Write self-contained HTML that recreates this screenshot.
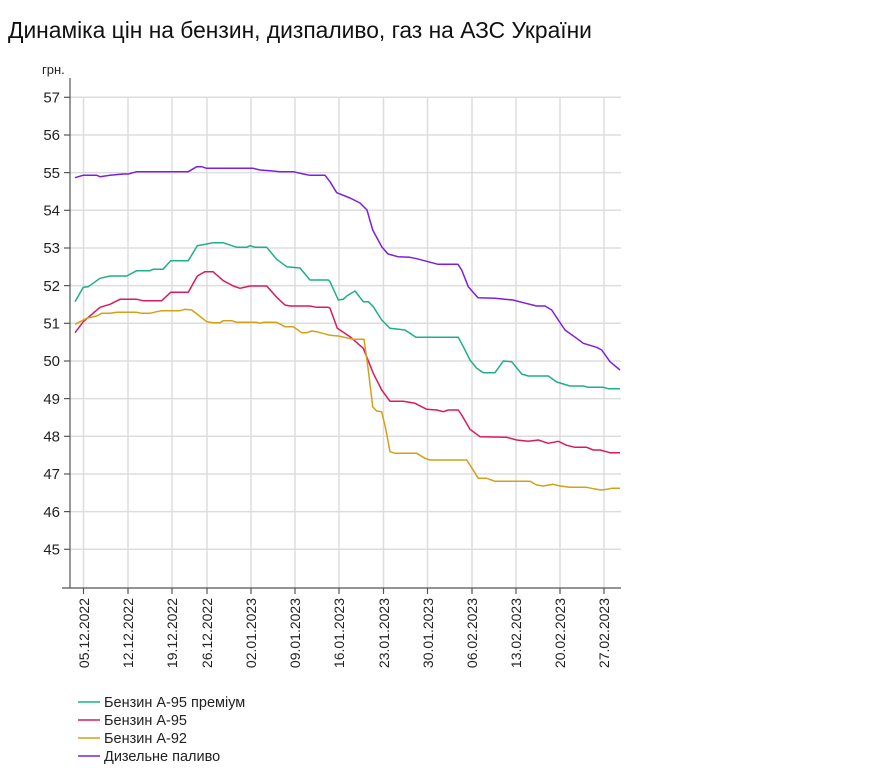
<!DOCTYPE html>
<html><head><meta charset="utf-8"><style>
body{margin:0;background:#fff;}
svg{display:block;font-family:"Liberation Sans",sans-serif;}
</style></head><body>
<svg width="878" height="768" viewBox="0 0 878 768">
<text x="8" y="38" font-size="22.8" fill="#111">Динаміка цін на бензин, дизпаливо, газ на АЗС України</text>
<text x="42" y="74" font-size="13" fill="#222">грн.</text>
<g stroke="#ddd" stroke-width="1.5">
<line x1="70" x2="621" y1="97.3" y2="97.3"/><line x1="70" x2="621" y1="135" y2="135"/><line x1="70" x2="621" y1="172.6" y2="172.6"/><line x1="70" x2="621" y1="210.3" y2="210.3"/><line x1="70" x2="621" y1="248" y2="248"/><line x1="70" x2="621" y1="285.6" y2="285.6"/><line x1="70" x2="621" y1="323.3" y2="323.3"/><line x1="70" x2="621" y1="361" y2="361"/><line x1="70" x2="621" y1="398.6" y2="398.6"/><line x1="70" x2="621" y1="436.3" y2="436.3"/><line x1="70" x2="621" y1="474" y2="474"/><line x1="70" x2="621" y1="511.6" y2="511.6"/><line x1="70" x2="621" y1="549.3" y2="549.3"/>
<line y1="97" y2="588" x1="83.5" x2="83.5"/><line y1="97" y2="588" x1="128" x2="128"/><line y1="97" y2="588" x1="172" x2="172"/><line y1="97" y2="588" x1="207" x2="207"/><line y1="97" y2="588" x1="251" x2="251"/><line y1="97" y2="588" x1="295" x2="295"/><line y1="97" y2="588" x1="339" x2="339"/><line y1="97" y2="588" x1="383.5" x2="383.5"/><line y1="97" y2="588" x1="427.5" x2="427.5"/><line y1="97" y2="588" x1="472" x2="472"/><line y1="97" y2="588" x1="516" x2="516"/><line y1="97" y2="588" x1="560" x2="560"/><line y1="97" y2="588" x1="604" x2="604"/>
</g>
<g stroke="#555" stroke-width="1.2">
<line x1="70" x2="70" y1="78" y2="588"/><line x1="62" x2="621" y1="588" y2="588"/>
<line x1="64" x2="70" y1="97.3" y2="97.3"/><line x1="64" x2="70" y1="135" y2="135"/><line x1="64" x2="70" y1="172.6" y2="172.6"/><line x1="64" x2="70" y1="210.3" y2="210.3"/><line x1="64" x2="70" y1="248" y2="248"/><line x1="64" x2="70" y1="285.6" y2="285.6"/><line x1="64" x2="70" y1="323.3" y2="323.3"/><line x1="64" x2="70" y1="361" y2="361"/><line x1="64" x2="70" y1="398.6" y2="398.6"/><line x1="64" x2="70" y1="436.3" y2="436.3"/><line x1="64" x2="70" y1="474" y2="474"/><line x1="64" x2="70" y1="511.6" y2="511.6"/><line x1="64" x2="70" y1="549.3" y2="549.3"/>
<line y1="588" y2="594" x1="83.5" x2="83.5"/><line y1="588" y2="594" x1="128" x2="128"/><line y1="588" y2="594" x1="172" x2="172"/><line y1="588" y2="594" x1="207" x2="207"/><line y1="588" y2="594" x1="251" x2="251"/><line y1="588" y2="594" x1="295" x2="295"/><line y1="588" y2="594" x1="339" x2="339"/><line y1="588" y2="594" x1="383.5" x2="383.5"/><line y1="588" y2="594" x1="427.5" x2="427.5"/><line y1="588" y2="594" x1="472" x2="472"/><line y1="588" y2="594" x1="516" x2="516"/><line y1="588" y2="594" x1="560" x2="560"/><line y1="588" y2="594" x1="604" x2="604"/>
</g>
<g font-size="15" fill="#222" text-anchor="end">
<text x="60" y="102.5">57</text><text x="60" y="140">56</text><text x="60" y="178">55</text><text x="60" y="215.5">54</text><text x="60" y="253">53</text><text x="60" y="291">52</text><text x="60" y="328.5">51</text><text x="60" y="366">50</text><text x="60" y="404">49</text><text x="60" y="441.5">48</text><text x="60" y="479">47</text><text x="60" y="517">46</text><text x="60" y="554.5">45</text>
</g>
<g font-size="14" fill="#222" text-anchor="end">
<text transform="translate(89,598) rotate(-90)">05.12.2022</text><text transform="translate(133,598) rotate(-90)">12.12.2022</text><text transform="translate(177,598) rotate(-90)">19.12.2022</text><text transform="translate(212,598) rotate(-90)">26.12.2022</text><text transform="translate(256,598) rotate(-90)">02.01.2023</text><text transform="translate(300,598) rotate(-90)">09.01.2023</text><text transform="translate(344,598) rotate(-90)">16.01.2023</text><text transform="translate(389,598) rotate(-90)">23.01.2023</text><text transform="translate(433,598) rotate(-90)">30.01.2023</text><text transform="translate(477,598) rotate(-90)">06.02.2023</text><text transform="translate(521,598) rotate(-90)">13.02.2023</text><text transform="translate(565,598) rotate(-90)">20.02.2023</text><text transform="translate(609,598) rotate(-90)">27.02.2023</text>
</g>
<g fill="none" stroke-width="1.5" stroke-linejoin="round">
<polyline stroke="#7b1fe0" points="75,177.7 83,175.3 96.7,175.3 100,176.7 110,175.3 123.3,174 128.3,174 136.7,171.7 188.3,171.7 196.7,166.7 201.7,166.7 206.7,168.3 253.3,168.3 260,170 270,170.7 280,171.7 293.3,171.7 303.3,174 310,175.3 325,175.3 330,181.7 336.7,192.7 350,198 360,203 367,210 372.7,230 381.7,246.7 388,254 398,256.7 410,257.3 416.7,258.7 426.7,261.3 438,264.3 458,264.3 461.7,270 468.3,286.7 478,297.7 495,298.3 505,299.3 513,300 523.3,302.7 536.7,306 545,306 551.7,310 558.3,320 565,330 576.7,338.3 583.3,343.3 596.7,347.3 601.7,350 610,361.7 620,370"/>
<polyline stroke="#1fae8c" points="75,301.7 83.3,287.3 88.3,286.7 100,278.3 110,276 126.7,276 136.7,270.7 150,270.7 153,269.3 163,269.3 170.7,260.7 188.3,260.7 197.3,245.7 206.7,244 213,242.7 223,242.7 236.7,247.3 246.7,247.3 250,245.7 255,247.3 266.7,247.3 276.7,259.3 286.7,266.7 300,268 310,280 328.3,280 330,281.7 338.3,300 343.3,299.3 346.7,296 355,291 363.3,301.7 368.3,301.7 373.3,306.7 381.7,320 390,328.3 405,330 416,337.3 458.3,337.3 463.3,346.7 470,360 476.7,368.3 483.3,372.7 495,372.7 503.3,361 511.7,361.7 521.7,374 528.3,376 548.3,376 556.7,382 570,386 583.3,386 588.3,387.3 603.3,387.3 608.3,388.7 620,388.7"/>
<polyline stroke="#d81b60" points="75,332.7 83.3,321.7 100,307.3 110,304.3 120,299.3 136.7,299.3 143.3,300.7 161.7,300.7 170.7,292.3 188.3,292.3 197.3,276 205,271.7 213,271.7 223.3,280.7 233.3,286 240,288.3 250,286 266.7,286 276.7,297.3 285,305 290,306 310,306 316.7,307.3 328.3,307.3 330,308.3 337.3,328.3 350,336.7 363.3,348.3 373.3,373.3 381.7,390 390,401.3 403.3,401.3 415,403.3 426.7,409.3 436.7,410 443.3,411.7 448.3,410 458.3,410 461.7,415 470,429.3 480,436.7 506.7,437.3 516.7,440 528.3,441.3 538.3,440 548.3,443.3 558.3,441.3 566.7,445.3 575,447.3 586.7,447.3 593.3,450 600,450 610,452.7 620,452.7"/>
<polyline stroke="#d4a017" points="75,324.3 86.7,318.3 96.7,316 101.7,313.3 110,313.3 116.7,312.3 136.7,312.3 141.7,313.3 150,313.3 156.7,311.7 161.7,310.7 180,310.7 185,309.3 191.7,310 198.3,315 206.7,321.7 213.3,322.7 220,322.7 223.3,320.7 231.7,320.7 236.7,322.3 256.7,322.3 260,323.3 263.3,322.3 276.7,322.3 285,326.7 293.3,326.7 301.7,332.7 306.7,332.7 311.7,331 316.7,331.7 330,335.3 338.3,336 353.3,339.3 364,339.3 368.3,370 372.7,406.7 376.7,411 381.7,411.7 386,430 390,451.7 395,453.3 416.7,453.3 425,458.3 430,460 466.7,460 470,465 478.3,478.3 486.7,478.3 495,481.3 530,481.3 536.7,485 543.3,486 553.3,484.3 560,486 570,487.3 586.7,487.3 593.3,488.7 601.7,490 606.7,489.3 611.7,488.3 620,488.3"/>
</g>
<g stroke-width="1.5">
<line x1="78" x2="100" y1="702" y2="702" stroke="#1fae8c"/><line x1="78" x2="100" y1="720" y2="720" stroke="#d81b60"/><line x1="78" x2="100" y1="738" y2="738" stroke="#d4a017"/><line x1="78" x2="100" y1="756" y2="756" stroke="#7b1fe0"/>
</g>
<g font-size="14.5" fill="#222">
<text x="104" y="707">Бензин А-95 преміум</text><text x="104" y="725">Бензин А-95</text><text x="104" y="743">Бензин А-92</text><text x="104" y="761">Дизельне паливо</text>
</g>
</svg>
</body></html>
